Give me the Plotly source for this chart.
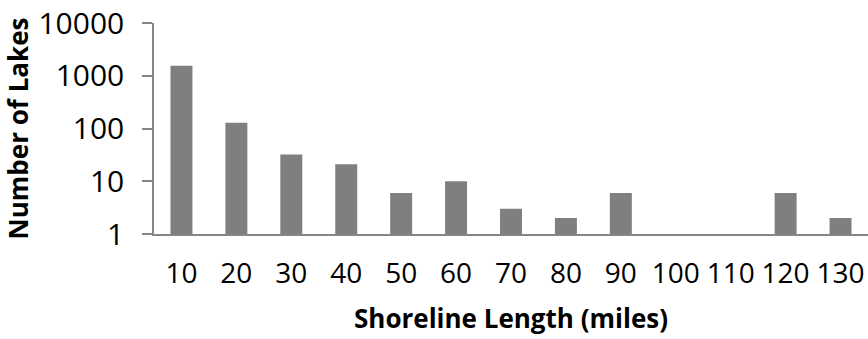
import plotly.graph_objects as go

categories = ["10", "20", "30", "40", "50", "60", "70", "80", "90", "100", "110", "120", "130"]
lakes = [1550, 128, 32, 21, 6, 10, 3, 2, 6, None, None, 6, 2]
ytick_vals = [1, 10, 100, 1000, 10000]
ytick_text = ["1", "10", "100", "1000", "10000"]

FONT = "Open Sans"

fig = go.Figure(go.Bar(
    x=categories, y=lakes,
    marker=dict(color="#7f7f7f", line=dict(width=0)),
))

fig.update_layout(
    width=868, height=339,
    margin=dict(l=154, r=0, t=23, b=105),
    paper_bgcolor="white", plot_bgcolor="white",
    bargap=0.6,
    showlegend=False,
    font=dict(family=FONT, size=28, color="black"),
)

fig.update_xaxes(
    type="category",
    showline=True, linecolor="#868686", linewidth=1.5,
    ticks="", ticklabelstandoff=14,
    tickfont=dict(size=28),
    title=dict(text="<b>Shoreline Length (miles)</b>", font=dict(size=26), standoff=19),
    showgrid=False, zeroline=False,
)

fig.update_yaxes(
    type="log", range=[0, 4],
    tickvals=ytick_vals, ticktext=ytick_text,
    showline=True, linecolor="#868686", linewidth=1.5,
    ticks="outside", ticklen=10, tickcolor="#868686", tickwidth=1.5,
    ticklabelstandoff=12,
    tickfont=dict(size=30),
    title=dict(text="<b>Number of Lakes</b>", font=dict(size=26), standoff=4),
    showgrid=False, zeroline=False,
)

fig.write_html("out.html")
